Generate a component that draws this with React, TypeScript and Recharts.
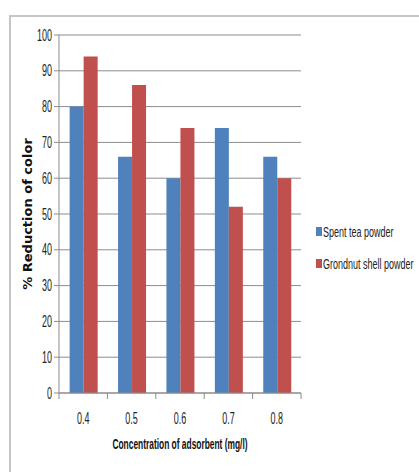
import React from "react";
import {
  BarChart,
  Bar,
  XAxis,
  YAxis,
  CartesianGrid,
  Legend,
} from "recharts";

const concentrations = ["0.4", "0.5", "0.6", "0.7", "0.8"];
const spentTea = [80, 66, 60, 74, 66];
const groundnutShell = [94, 86, 74, 52, 60];
const yTicks = [0, 10, 20, 30, 40, 50, 60, 70, 80, 90, 100];

const data = concentrations.map((c, i) => ({
  conc: c,
  tea: spentTea[i],
  shell: groundnutShell[i],
}));

const FONT = "'Liberation Sans', Arial, sans-serif";
const SQUISH = 0.6;
const TICK_SQUISH = 0.56;
const AXIS_GRAY = "#8c8c8c";
const TEA_BLUE = "#4F81BD";
const SHELL_RED = "#C0504D";

// the reference text is horizontally condensed (Calibri-ish), so scale around the anchor
function squish(x: number, y: number, s = SQUISH) {
  return `translate(${x} ${y}) scale(${s} 1) translate(${-x} ${-y})`;
}

const YTick = (props: any) => {
  const { x, y, payload } = props;
  return (
    <text
      x={x}
      y={y}
      textAnchor="end"
      dominantBaseline="central"
      fontFamily={FONT}
      fontSize={16}
      fill="#222"
      transform={squish(x, y, TICK_SQUISH)}
    >
      {payload.value}
    </text>
  );
};

// category labels plus tick marks on the band edges (Excel style)
const XTick = (props: any) => {
  const { x, y, payload, index, visibleTicksCount } = props;
  const axisY = y - 6 - 12;
  const half = payload.offset || 0;
  const left = payload.coordinate - half;
  const right = payload.coordinate + half;
  const ty = axisY + 25;
  return (
    <g>
      <line x1={left} x2={left} y1={axisY} y2={axisY + 6} stroke={AXIS_GRAY} />
      {index === visibleTicksCount - 1 && (
        <line x1={right} x2={right} y1={axisY} y2={axisY + 6} stroke={AXIS_GRAY} />
      )}
      <text
        x={x}
        y={ty}
        textAnchor="middle"
        dominantBaseline="central"
        fontFamily={FONT}
        fontSize={16}
        fill="#222"
        transform={squish(x, ty, TICK_SQUISH)}
      >
        {payload.value}
      </text>
    </g>
  );
};

const XTitle = (props: any) => {
  const { viewBox } = props;
  const cx = viewBox.x + viewBox.width / 2;
  const cy = viewBox.y + 51;
  return (
    <text
      x={cx}
      y={cy}
      textAnchor="middle"
      dominantBaseline="central"
      fontFamily={FONT}
      fontWeight="bold"
      fontSize={14}
      fill="#111"
      transform={squish(cx, cy, 0.6)}
    >
      Concentration of adsorbent (mg/l)
    </text>
  );
};

const LegendBox = (props: any) => {
  const items = props.payload || [];
  return (
    <div>
      {items.map((it: any) => (
        <div
          key={it.value}
          style={{ display: "flex", alignItems: "center", height: 32 }}
        >
          <div
            style={{
              flex: "0 0 6px",
              width: 6,
              height: 9,
              background: it.color || (it.payload && it.payload.fill),
              marginRight: 1,
            }}
          />
          <span
            style={{
              fontFamily: FONT,
              fontSize: 15,
              color: "#222",
              whiteSpace: "nowrap",
              transform: `scaleX(${SQUISH})`,
              transformOrigin: "left center",
              display: "inline-block",
            }}
          >
            {it.value}
          </span>
        </div>
      ))}
    </div>
  );
};

export default function App() {
  return (
    <div
      style={{
        position: "absolute",
        left: 0,
        top: 0,
        width: 419,
        height: 472,
        background: "#fff",
        overflow: "hidden",
      }}
    >
      {/* frame of the original figure: only top and left edges show */}
      <div
        style={{
          position: "absolute",
          left: 9,
          top: 15,
          width: 420,
          height: 470,
          borderTop: "2px solid #c6c6c6",
          borderLeft: "2px solid #c6c6c6",
        }}
      />
      <div style={{ position: "absolute", left: 0, top: 0 }}>
        <BarChart
          width={419}
          height={472}
          data={data}
          margin={{ top: 35, right: 18, left: 0, bottom: 19 }}
          barCategoryGap="22%"
          barGap={0}
        >
          <CartesianGrid vertical={false} stroke={AXIS_GRAY} />
          <XAxis
            dataKey="conc"
            height={60}
            stroke={AXIS_GRAY}
            tickLine={false}
            tickSize={6}
            tickMargin={12}
            tick={<XTick />}
            interval={0}
            label={<XTitle />}
          />
          <YAxis
            width={59}
            domain={[0, 100]}
            ticks={yTicks}
            interval={0}
            stroke={AXIS_GRAY}
            tickSize={5}
            tickMargin={2}
            tick={<YTick />}
            label={{
              value: "% Reduction of color",
              angle: -90,
              position: "center",
              dx: -2.5,
              style: {
                fontFamily: "'DejaVu Sans', Verdana, sans-serif",
                fontWeight: "bold",
                fontSize: 13,
                fill: "#111",
              },
            }}
          />
          <Legend
            layout="vertical"
            align="right"
            verticalAlign="middle"
            itemSorter={null as any}
            content={<LegendBox />}
            wrapperStyle={{ left: 316, top: 215, width: 100 }}
          />
          <Bar
            dataKey="tea"
            name="Spent tea powder"
            fill={TEA_BLUE}
            isAnimationActive={false}
          />
          <Bar
            dataKey="shell"
            name="Grondnut shell powder"
            fill={SHELL_RED}
            isAnimationActive={false}
          />
        </BarChart>
      </div>
    </div>
  );
}
